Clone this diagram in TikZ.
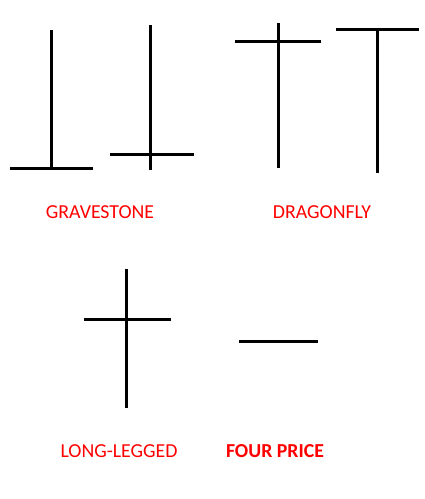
\documentclass[tikz,border=0pt]{standalone}
\usepackage{fontspec}
\setmainfont{Carlito}
\usepackage{tikz}
\usetikzlibrary{positioning}

\begin{document}
\begin{tikzpicture}[
    x=1pt, y=-1pt,
    stick/.style={line width=3pt, black},
    label/.style={font=\fontsize{19.8}{22}\selectfont, text=red, inner sep=0pt}
]
\useasboundingbox (0,0) rectangle (424,499);

% gravestone
\draw[stick] (51,30) -- (51,168);
\draw[stick] (10,168) -- (93,168);
\draw[stick] (150,25) -- (150,170);
\draw[stick] (110,154) -- (194,154);
\node[label] (grave) at (100,212) {GRAVESTONE};

% dragonfly
\draw[stick] (278,23) -- (278,168);
\draw[stick] (235,41) -- (321,41);
\draw[stick] (377,30) -- (377,173);
\draw[stick] (336,29) -- (419,29);
\node[label] (dragon) at (322,212) {DRAGONFLY};

% long-legged
\draw[stick] (126,269) -- (126,408);
\draw[stick] (84,319) -- (171,319);
\node[label] (long) at (119,451) {LONG-LEGGED};

% four price
\draw[stick] (239,341) -- (318,341);
\node[label, font=\fontsize{19.8}{22}\selectfont\bfseries] (four) at (275,451) {FOUR PRICE};
\end{tikzpicture}
\end{document}
